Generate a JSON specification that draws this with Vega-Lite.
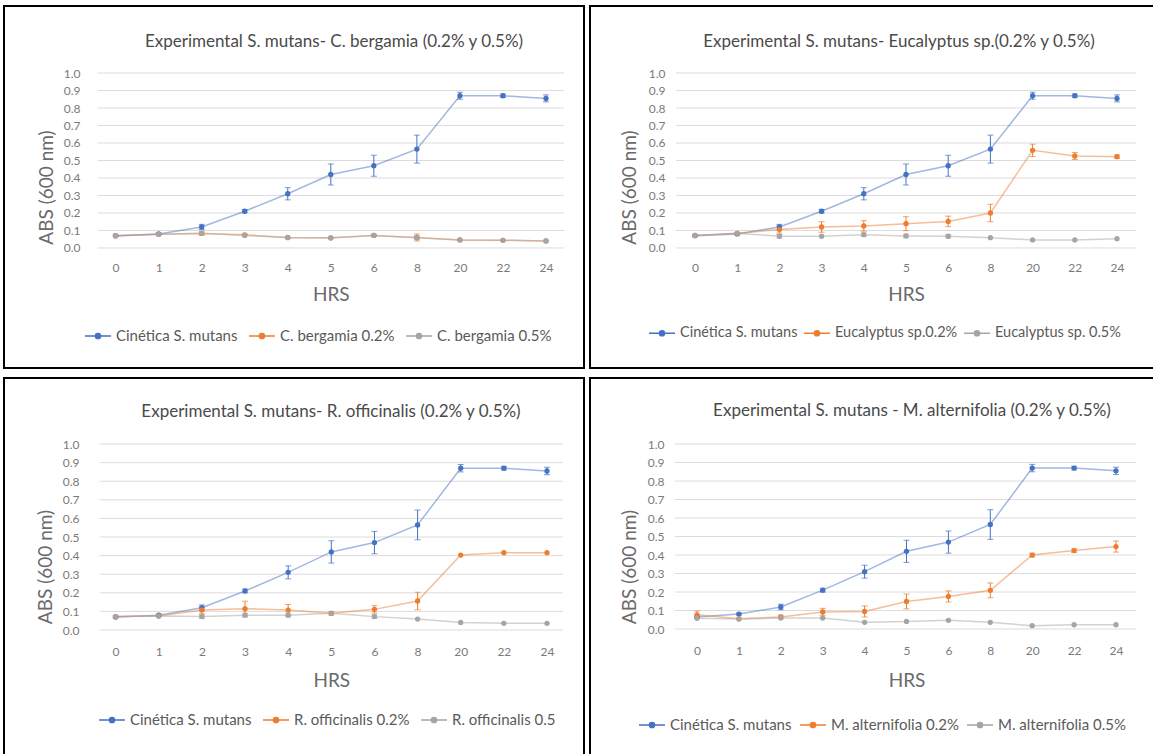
{
 "$schema": "https://vega.github.io/schema/vega-lite/v6.json",
 "padding": {"left": 3, "top": 5, "right": 2, "bottom": 2},
 "background": "white",
 "spacing": 8,
 "resolve": {"scale": {"color": "independent"}, "legend": {"color": "independent"}},
 "datasets": {
  "g": [{"v":0},{"v":0.1},{"v":0.2},{"v":0.3},{"v":0.4},{"v":0.5},{"v":0.6},{"v":0.7},{"v":0.8},{"v":0.9},{"v":1.0}],
  "d": [
   {"p":1,"s":"Cinética S. mutans","h":0,"v":0.07,"e":0.005},
   {"p":1,"s":"Cinética S. mutans","h":1,"v":0.08,"e":0.005},
   {"p":1,"s":"Cinética S. mutans","h":2,"v":0.12,"e":0.015},
   {"p":1,"s":"Cinética S. mutans","h":3,"v":0.21,"e":0.01},
   {"p":1,"s":"Cinética S. mutans","h":4,"v":0.31,"e":0.035},
   {"p":1,"s":"Cinética S. mutans","h":5,"v":0.42,"e":0.06},
   {"p":1,"s":"Cinética S. mutans","h":6,"v":0.47,"e":0.06},
   {"p":1,"s":"Cinética S. mutans","h":8,"v":0.565,"e":0.08},
   {"p":1,"s":"Cinética S. mutans","h":20,"v":0.87,"e":0.02},
   {"p":1,"s":"Cinética S. mutans","h":22,"v":0.87,"e":0.01},
   {"p":1,"s":"Cinética S. mutans","h":24,"v":0.855,"e":0.02},
   {"p":1,"s":"C. bergamia 0.2%","h":0,"v":0.07,"e":0},
   {"p":1,"s":"C. bergamia 0.2%","h":1,"v":0.078,"e":0},
   {"p":1,"s":"C. bergamia 0.2%","h":2,"v":0.083,"e":0.01},
   {"p":1,"s":"C. bergamia 0.2%","h":3,"v":0.075,"e":0.005},
   {"p":1,"s":"C. bergamia 0.2%","h":4,"v":0.06,"e":0},
   {"p":1,"s":"C. bergamia 0.2%","h":5,"v":0.058,"e":0},
   {"p":1,"s":"C. bergamia 0.2%","h":6,"v":0.072,"e":0.005},
   {"p":1,"s":"C. bergamia 0.2%","h":8,"v":0.06,"e":0.02},
   {"p":1,"s":"C. bergamia 0.2%","h":20,"v":0.046,"e":0},
   {"p":1,"s":"C. bergamia 0.2%","h":22,"v":0.044,"e":0},
   {"p":1,"s":"C. bergamia 0.2%","h":24,"v":0.04,"e":0},
   {"p":1,"s":"C. bergamia 0.5%","h":0,"v":0.069,"e":0},
   {"p":1,"s":"C. bergamia 0.5%","h":1,"v":0.078,"e":0},
   {"p":1,"s":"C. bergamia 0.5%","h":2,"v":0.084,"e":0},
   {"p":1,"s":"C. bergamia 0.5%","h":3,"v":0.072,"e":0},
   {"p":1,"s":"C. bergamia 0.5%","h":4,"v":0.059,"e":0},
   {"p":1,"s":"C. bergamia 0.5%","h":5,"v":0.057,"e":0},
   {"p":1,"s":"C. bergamia 0.5%","h":6,"v":0.072,"e":0},
   {"p":1,"s":"C. bergamia 0.5%","h":8,"v":0.059,"e":0.01},
   {"p":1,"s":"C. bergamia 0.5%","h":20,"v":0.046,"e":0},
   {"p":1,"s":"C. bergamia 0.5%","h":22,"v":0.044,"e":0},
   {"p":1,"s":"C. bergamia 0.5%","h":24,"v":0.04,"e":0},
   {"p":2,"s":"Cinética S. mutans","h":0,"v":0.07,"e":0.005},
   {"p":2,"s":"Cinética S. mutans","h":1,"v":0.08,"e":0.005},
   {"p":2,"s":"Cinética S. mutans","h":2,"v":0.12,"e":0.015},
   {"p":2,"s":"Cinética S. mutans","h":3,"v":0.21,"e":0.01},
   {"p":2,"s":"Cinética S. mutans","h":4,"v":0.31,"e":0.035},
   {"p":2,"s":"Cinética S. mutans","h":5,"v":0.42,"e":0.06},
   {"p":2,"s":"Cinética S. mutans","h":6,"v":0.47,"e":0.06},
   {"p":2,"s":"Cinética S. mutans","h":8,"v":0.565,"e":0.08},
   {"p":2,"s":"Cinética S. mutans","h":20,"v":0.87,"e":0.02},
   {"p":2,"s":"Cinética S. mutans","h":22,"v":0.87,"e":0.01},
   {"p":2,"s":"Cinética S. mutans","h":24,"v":0.855,"e":0.02},
   {"p":2,"s":"Eucalyptus sp.0.2%","h":0,"v":0.072,"e":0},
   {"p":2,"s":"Eucalyptus sp.0.2%","h":1,"v":0.084,"e":0},
   {"p":2,"s":"Eucalyptus sp.0.2%","h":2,"v":0.105,"e":0.02},
   {"p":2,"s":"Eucalyptus sp.0.2%","h":3,"v":0.12,"e":0.03},
   {"p":2,"s":"Eucalyptus sp.0.2%","h":4,"v":0.126,"e":0.03},
   {"p":2,"s":"Eucalyptus sp.0.2%","h":5,"v":0.139,"e":0.04},
   {"p":2,"s":"Eucalyptus sp.0.2%","h":6,"v":0.152,"e":0.03},
   {"p":2,"s":"Eucalyptus sp.0.2%","h":8,"v":0.2,"e":0.05},
   {"p":2,"s":"Eucalyptus sp.0.2%","h":20,"v":0.558,"e":0.035},
   {"p":2,"s":"Eucalyptus sp.0.2%","h":22,"v":0.526,"e":0.02},
   {"p":2,"s":"Eucalyptus sp.0.2%","h":24,"v":0.522,"e":0.01},
   {"p":2,"s":"Eucalyptus sp. 0.5%","h":0,"v":0.072,"e":0},
   {"p":2,"s":"Eucalyptus sp. 0.5%","h":1,"v":0.084,"e":0},
   {"p":2,"s":"Eucalyptus sp. 0.5%","h":2,"v":0.067,"e":0.01},
   {"p":2,"s":"Eucalyptus sp. 0.5%","h":3,"v":0.067,"e":0},
   {"p":2,"s":"Eucalyptus sp. 0.5%","h":4,"v":0.076,"e":0.01},
   {"p":2,"s":"Eucalyptus sp. 0.5%","h":5,"v":0.069,"e":0.01},
   {"p":2,"s":"Eucalyptus sp. 0.5%","h":6,"v":0.067,"e":0.01},
   {"p":2,"s":"Eucalyptus sp. 0.5%","h":8,"v":0.059,"e":0},
   {"p":2,"s":"Eucalyptus sp. 0.5%","h":20,"v":0.046,"e":0},
   {"p":2,"s":"Eucalyptus sp. 0.5%","h":22,"v":0.046,"e":0},
   {"p":2,"s":"Eucalyptus sp. 0.5%","h":24,"v":0.053,"e":0},
   {"p":3,"s":"Cinética S. mutans","h":0,"v":0.07,"e":0.005},
   {"p":3,"s":"Cinética S. mutans","h":1,"v":0.08,"e":0.005},
   {"p":3,"s":"Cinética S. mutans","h":2,"v":0.12,"e":0.015},
   {"p":3,"s":"Cinética S. mutans","h":3,"v":0.21,"e":0.01},
   {"p":3,"s":"Cinética S. mutans","h":4,"v":0.31,"e":0.035},
   {"p":3,"s":"Cinética S. mutans","h":5,"v":0.42,"e":0.06},
   {"p":3,"s":"Cinética S. mutans","h":6,"v":0.47,"e":0.06},
   {"p":3,"s":"Cinética S. mutans","h":8,"v":0.565,"e":0.08},
   {"p":3,"s":"Cinética S. mutans","h":20,"v":0.87,"e":0.02},
   {"p":3,"s":"Cinética S. mutans","h":22,"v":0.87,"e":0.01},
   {"p":3,"s":"Cinética S. mutans","h":24,"v":0.855,"e":0.02},
   {"p":3,"s":"R. officinalis 0.2%","h":0,"v":0.072,"e":0},
   {"p":3,"s":"R. officinalis 0.2%","h":1,"v":0.075,"e":0},
   {"p":3,"s":"R. officinalis 0.2%","h":2,"v":0.107,"e":0.02},
   {"p":3,"s":"R. officinalis 0.2%","h":3,"v":0.115,"e":0.04},
   {"p":3,"s":"R. officinalis 0.2%","h":4,"v":0.107,"e":0.03},
   {"p":3,"s":"R. officinalis 0.2%","h":5,"v":0.09,"e":0.01},
   {"p":3,"s":"R. officinalis 0.2%","h":6,"v":0.111,"e":0.02},
   {"p":3,"s":"R. officinalis 0.2%","h":8,"v":0.156,"e":0.047},
   {"p":3,"s":"R. officinalis 0.2%","h":20,"v":0.403,"e":0},
   {"p":3,"s":"R. officinalis 0.2%","h":22,"v":0.416,"e":0},
   {"p":3,"s":"R. officinalis 0.2%","h":24,"v":0.416,"e":0},
   {"p":3,"s":"R. officinalis 0.5","h":0,"v":0.072,"e":0},
   {"p":3,"s":"R. officinalis 0.5","h":1,"v":0.075,"e":0},
   {"p":3,"s":"R. officinalis 0.5","h":2,"v":0.072,"e":0.01},
   {"p":3,"s":"R. officinalis 0.5","h":3,"v":0.08,"e":0.01},
   {"p":3,"s":"R. officinalis 0.5","h":4,"v":0.08,"e":0.01},
   {"p":3,"s":"R. officinalis 0.5","h":5,"v":0.09,"e":0},
   {"p":3,"s":"R. officinalis 0.5","h":6,"v":0.072,"e":0.01},
   {"p":3,"s":"R. officinalis 0.5","h":8,"v":0.059,"e":0},
   {"p":3,"s":"R. officinalis 0.5","h":20,"v":0.041,"e":0},
   {"p":3,"s":"R. officinalis 0.5","h":22,"v":0.036,"e":0},
   {"p":3,"s":"R. officinalis 0.5","h":24,"v":0.036,"e":0},
   {"p":4,"s":"Cinética S. mutans","h":0,"v":0.065,"e":0.005},
   {"p":4,"s":"Cinética S. mutans","h":1,"v":0.081,"e":0.005},
   {"p":4,"s":"Cinética S. mutans","h":2,"v":0.119,"e":0.015},
   {"p":4,"s":"Cinética S. mutans","h":3,"v":0.21,"e":0.01},
   {"p":4,"s":"Cinética S. mutans","h":4,"v":0.31,"e":0.035},
   {"p":4,"s":"Cinética S. mutans","h":5,"v":0.42,"e":0.06},
   {"p":4,"s":"Cinética S. mutans","h":6,"v":0.47,"e":0.06},
   {"p":4,"s":"Cinética S. mutans","h":8,"v":0.565,"e":0.08},
   {"p":4,"s":"Cinética S. mutans","h":20,"v":0.87,"e":0.02},
   {"p":4,"s":"Cinética S. mutans","h":22,"v":0.87,"e":0.01},
   {"p":4,"s":"Cinética S. mutans","h":24,"v":0.855,"e":0.02},
   {"p":4,"s":"M. alternifolia 0.2%","h":0,"v":0.077,"e":0.02},
   {"p":4,"s":"M. alternifolia 0.2%","h":1,"v":0.056,"e":0},
   {"p":4,"s":"M. alternifolia 0.2%","h":2,"v":0.065,"e":0.01},
   {"p":4,"s":"M. alternifolia 0.2%","h":3,"v":0.092,"e":0.02},
   {"p":4,"s":"M. alternifolia 0.2%","h":4,"v":0.095,"e":0.03},
   {"p":4,"s":"M. alternifolia 0.2%","h":5,"v":0.149,"e":0.04},
   {"p":4,"s":"M. alternifolia 0.2%","h":6,"v":0.176,"e":0.03},
   {"p":4,"s":"M. alternifolia 0.2%","h":8,"v":0.209,"e":0.04},
   {"p":4,"s":"M. alternifolia 0.2%","h":20,"v":0.4,"e":0.01},
   {"p":4,"s":"M. alternifolia 0.2%","h":22,"v":0.424,"e":0.01},
   {"p":4,"s":"M. alternifolia 0.2%","h":24,"v":0.446,"e":0.03},
   {"p":4,"s":"M. alternifolia 0.5%","h":0,"v":0.058,"e":0},
   {"p":4,"s":"M. alternifolia 0.5%","h":1,"v":0.054,"e":0},
   {"p":4,"s":"M. alternifolia 0.5%","h":2,"v":0.059,"e":0},
   {"p":4,"s":"M. alternifolia 0.5%","h":3,"v":0.059,"e":0},
   {"p":4,"s":"M. alternifolia 0.5%","h":4,"v":0.036,"e":0},
   {"p":4,"s":"M. alternifolia 0.5%","h":5,"v":0.041,"e":0},
   {"p":4,"s":"M. alternifolia 0.5%","h":6,"v":0.047,"e":0},
   {"p":4,"s":"M. alternifolia 0.5%","h":8,"v":0.036,"e":0},
   {"p":4,"s":"M. alternifolia 0.5%","h":20,"v":0.018,"e":0},
   {"p":4,"s":"M. alternifolia 0.5%","h":22,"v":0.023,"e":0},
   {"p":4,"s":"M. alternifolia 0.5%","h":24,"v":0.023,"e":0}
  ]
 },
 "vconcat": [
  {
   "spacing": 4,
   "resolve": {"scale": {"color": "independent"}, "legend": {"color": "independent"}},
   "hconcat": [
    {
     "width": 580, "height": 362,
     "title": {"text": "Experimental S. mutans- C. bergamia (0.2% y 0.5%)", "offset": -45, "dx": 40},
     "encoding": {
      "x": {"field": "h", "type": "ordinal", "scale": {"type": "point", "domain": [0,1,2,3,4,5,6,8,20,22,24], "range": [111.6, 542], "padding": 0}, "axis": {"labelAngle": 0, "offset": -110, "title": "HRS", "titlePadding": 12}},
      "y": {"field": "v", "type": "quantitative", "scale": {"domain": [-0.686, 1.383], "nice": false, "zero": false}, "axis": {"values": [0,0.1,0.2,0.3,0.4,0.5,0.6,0.7,0.8,0.9,1], "format": ".1f", "offset": -80, "title": "ABS (600 nm)", "titlePadding": 6.5}}
     },
     "layer": [
      {"data": {"name": "g"}, "mark": {"type": "rule", "color": "#dcdcdc", "strokeWidth": 1, "xOffset": -18, "x2Offset": 18}, "encoding": {"x": {"datum": 0, "type": "ordinal"}, "x2": {"datum": 24}}},
      {"data": {"name": "d"}, "transform": [{"filter": "datum.p == 1"}], "mark": {"type": "line", "strokeWidth": 1.5, "opacity": 0.5},
       "encoding": {"color": {"field": "s", "type": "nominal", "scale": {"domain": ["Cinética S. mutans", "C. bergamia 0.2%", "C. bergamia 0.5%"], "range": ["#4472C4", "#ED7D31", "#A5A5A5"]},
        "legend": {"orient": "none", "legendX": 80, "legendY": 316, "direction": "horizontal", "title": null}}}},
      {"data": {"name": "d"}, "transform": [{"filter": "datum.p == 1 && datum.e > 0"}], "mark": {"type": "errorbar", "ticks": {"size": 6}, "thickness": 1}, "encoding": {"yError": {"field": "e"}, "color": {"field": "s", "type": "nominal"}}},
      {"data": {"name": "d"}, "transform": [{"filter": "datum.p == 1"}], "mark": {"type": "point", "filled": true, "size": 28, "opacity": 1}, "encoding": {"color": {"field": "s", "type": "nominal"}}}
     ]
    },
    {
     "width": 564, "height": 362,
     "title": {"text": "Experimental S. mutans- Eucalyptus sp.(0.2% y 0.5%)", "offset": -45, "dx": 27},
     "encoding": {
      "x": {"field": "h", "type": "ordinal", "scale": {"type": "point", "domain": [0,1,2,3,4,5,6,8,20,22,24], "range": [105, 527], "padding": 0}, "axis": {"labelAngle": 0, "offset": -110, "title": "HRS", "titlePadding": 12}},
      "y": {"field": "v", "type": "quantitative", "scale": {"domain": [-0.686, 1.383], "nice": false, "zero": false}, "axis": {"values": [0,0.1,0.2,0.3,0.4,0.5,0.6,0.7,0.8,0.9,1], "format": ".1f", "offset": -79, "title": "ABS (600 nm)", "titlePadding": 9}}
     },
     "layer": [
      {"data": {"name": "g"}, "mark": {"type": "rule", "color": "#dcdcdc", "strokeWidth": 1, "xOffset": -19, "x2Offset": 19}, "encoding": {"x": {"datum": 0, "type": "ordinal"}, "x2": {"datum": 24}}},
      {"data": {"name": "d"}, "transform": [{"filter": "datum.p == 2"}], "mark": {"type": "line", "strokeWidth": 1.5, "opacity": 0.5},
       "encoding": {"color": {"field": "s", "type": "nominal", "scale": {"domain": ["Cinética S. mutans", "Eucalyptus sp.0.2%", "Eucalyptus sp. 0.5%"], "range": ["#4472C4", "#ED7D31", "#A5A5A5"]},
        "legend": {"orient": "none", "legendX": 58, "legendY": 313, "direction": "horizontal", "title": null, "columnPadding": 3, "labelFontSize": 14.5}}}},
      {"data": {"name": "d"}, "transform": [{"filter": "datum.p == 2 && datum.e > 0"}], "mark": {"type": "errorbar", "ticks": {"size": 6}, "thickness": 1}, "encoding": {"yError": {"field": "e"}, "color": {"field": "s", "type": "nominal"}}},
      {"data": {"name": "d"}, "transform": [{"filter": "datum.p == 2"}], "mark": {"type": "point", "filled": true, "size": 28, "opacity": 1}, "encoding": {"color": {"field": "s", "type": "nominal"}}}
     ]
    }
   ]
  },
  {
   "spacing": 4,
   "resolve": {"scale": {"color": "independent"}, "legend": {"color": "independent"}},
   "hconcat": [
    {
     "width": 580, "height": 377,
     "title": {"text": "Experimental S. mutans- R. officinalis (0.2% y 0.5%)", "offset": -43, "dx": 37},
     "encoding": {
      "x": {"field": "h", "type": "ordinal", "scale": {"type": "point", "domain": [0,1,2,3,4,5,6,8,20,22,24], "range": [111.6, 543], "padding": 0}, "axis": {"labelAngle": 0, "offset": -113, "title": "HRS", "titlePadding": 14}},
      "y": {"field": "v", "type": "quantitative", "scale": {"domain": [-0.672, 1.355], "nice": false, "zero": false}, "axis": {"values": [0,0.1,0.2,0.3,0.4,0.5,0.6,0.7,0.8,0.9,1], "format": ".1f", "offset": -79, "title": "ABS (600 nm)", "titlePadding": 6.5}}
     },
     "layer": [
      {"data": {"name": "g"}, "mark": {"type": "rule", "color": "#dcdcdc", "strokeWidth": 1, "xOffset": -16, "x2Offset": 16}, "encoding": {"x": {"datum": 0, "type": "ordinal"}, "x2": {"datum": 24}}},
      {"data": {"name": "d"}, "transform": [{"filter": "datum.p == 3"}], "mark": {"type": "line", "strokeWidth": 1.5, "opacity": 0.5},
       "encoding": {"color": {"field": "s", "type": "nominal", "scale": {"domain": ["Cinética S. mutans", "R. officinalis 0.2%", "R. officinalis 0.5"], "range": ["#4472C4", "#ED7D31", "#A5A5A5"]},
        "legend": {"orient": "none", "legendX": 94, "legendY": 328, "direction": "horizontal", "title": null}}}},
      {"data": {"name": "d"}, "transform": [{"filter": "datum.p == 3 && datum.e > 0"}], "mark": {"type": "errorbar", "ticks": {"size": 6}, "thickness": 1}, "encoding": {"yError": {"field": "e"}, "color": {"field": "s", "type": "nominal"}}},
      {"data": {"name": "d"}, "transform": [{"filter": "datum.p == 3"}], "mark": {"type": "point", "filled": true, "size": 28, "opacity": 1}, "encoding": {"color": {"field": "s", "type": "nominal"}}}
     ]
    },
    {
     "width": 564, "height": 377,
     "title": {"text": "Experimental S. mutans - M. alternifolia (0.2% y 0.5%)", "offset": -42, "dx": 40},
     "encoding": {
      "x": {"field": "h", "type": "ordinal", "scale": {"type": "point", "domain": [0,1,2,3,4,5,6,8,20,22,24], "range": [107, 526], "padding": 0}, "axis": {"labelAngle": 0, "offset": -114, "title": "HRS", "titlePadding": 15}},
      "y": {"field": "v", "type": "quantitative", "scale": {"domain": [-0.681, 1.357], "nice": false, "zero": false}, "axis": {"values": [0,0.1,0.2,0.3,0.4,0.5,0.6,0.7,0.8,0.9,1], "format": ".1f", "offset": -78, "title": "ABS (600 nm)", "titlePadding": 7.5}}
     },
     "layer": [
      {"data": {"name": "g"}, "mark": {"type": "rule", "color": "#dcdcdc", "strokeWidth": 1, "xOffset": -22, "x2Offset": 20}, "encoding": {"x": {"datum": 0, "type": "ordinal"}, "x2": {"datum": 24}}},
      {"data": {"name": "d"}, "transform": [{"filter": "datum.p == 4"}], "mark": {"type": "line", "strokeWidth": 1.5, "opacity": 0.5},
       "encoding": {"color": {"field": "s", "type": "nominal", "scale": {"domain": ["Cinética S. mutans", "M. alternifolia 0.2%", "M. alternifolia 0.5%"], "range": ["#4472C4", "#ED7D31", "#A5A5A5"]},
        "legend": {"orient": "none", "legendX": 48, "legendY": 333, "direction": "horizontal", "title": null, "columnPadding": 5}}}},
      {"data": {"name": "d"}, "transform": [{"filter": "datum.p == 4 && datum.e > 0"}], "mark": {"type": "errorbar", "ticks": {"size": 6}, "thickness": 1}, "encoding": {"yError": {"field": "e"}, "color": {"field": "s", "type": "nominal"}}},
      {"data": {"name": "d"}, "transform": [{"filter": "datum.p == 4"}], "mark": {"type": "point", "filled": true, "size": 28, "opacity": 1}, "encoding": {"color": {"field": "s", "type": "nominal"}}}
     ]
    }
   ]
  }
 ],
 "config": {
  "font": "Lato",
  "view": {"stroke": "black", "strokeWidth": 2},
  "axis": {"grid": false, "domain": false, "ticks": false, "tickSize": 0, "labelPadding": 4, "labelColor": "#7a7a7a", "labelFontSize": 12, "titleColor": "#6a6a6a", "titleFontSize": 19, "titleFontWeight": "normal"},
  "title": {"fontSize": 17, "fontWeight": "normal", "color": "#4a4a4a", "anchor": "middle", "frame": "group"},
  "legend": {
   "labelFontSize": 15, "labelColor": "#5a5a5a", "labelOffset": 4, "columnPadding": 8,
   "symbolType": "M-1,0H1M0,-0.2A0.2,0.2,0,1,1,0,0.2A0.2,0.2,0,1,1,0,-0.2Z",
   "symbolSize": 676, "symbolStrokeWidth": 1.5, "symbolOpacity": 1
  }
 }
}
